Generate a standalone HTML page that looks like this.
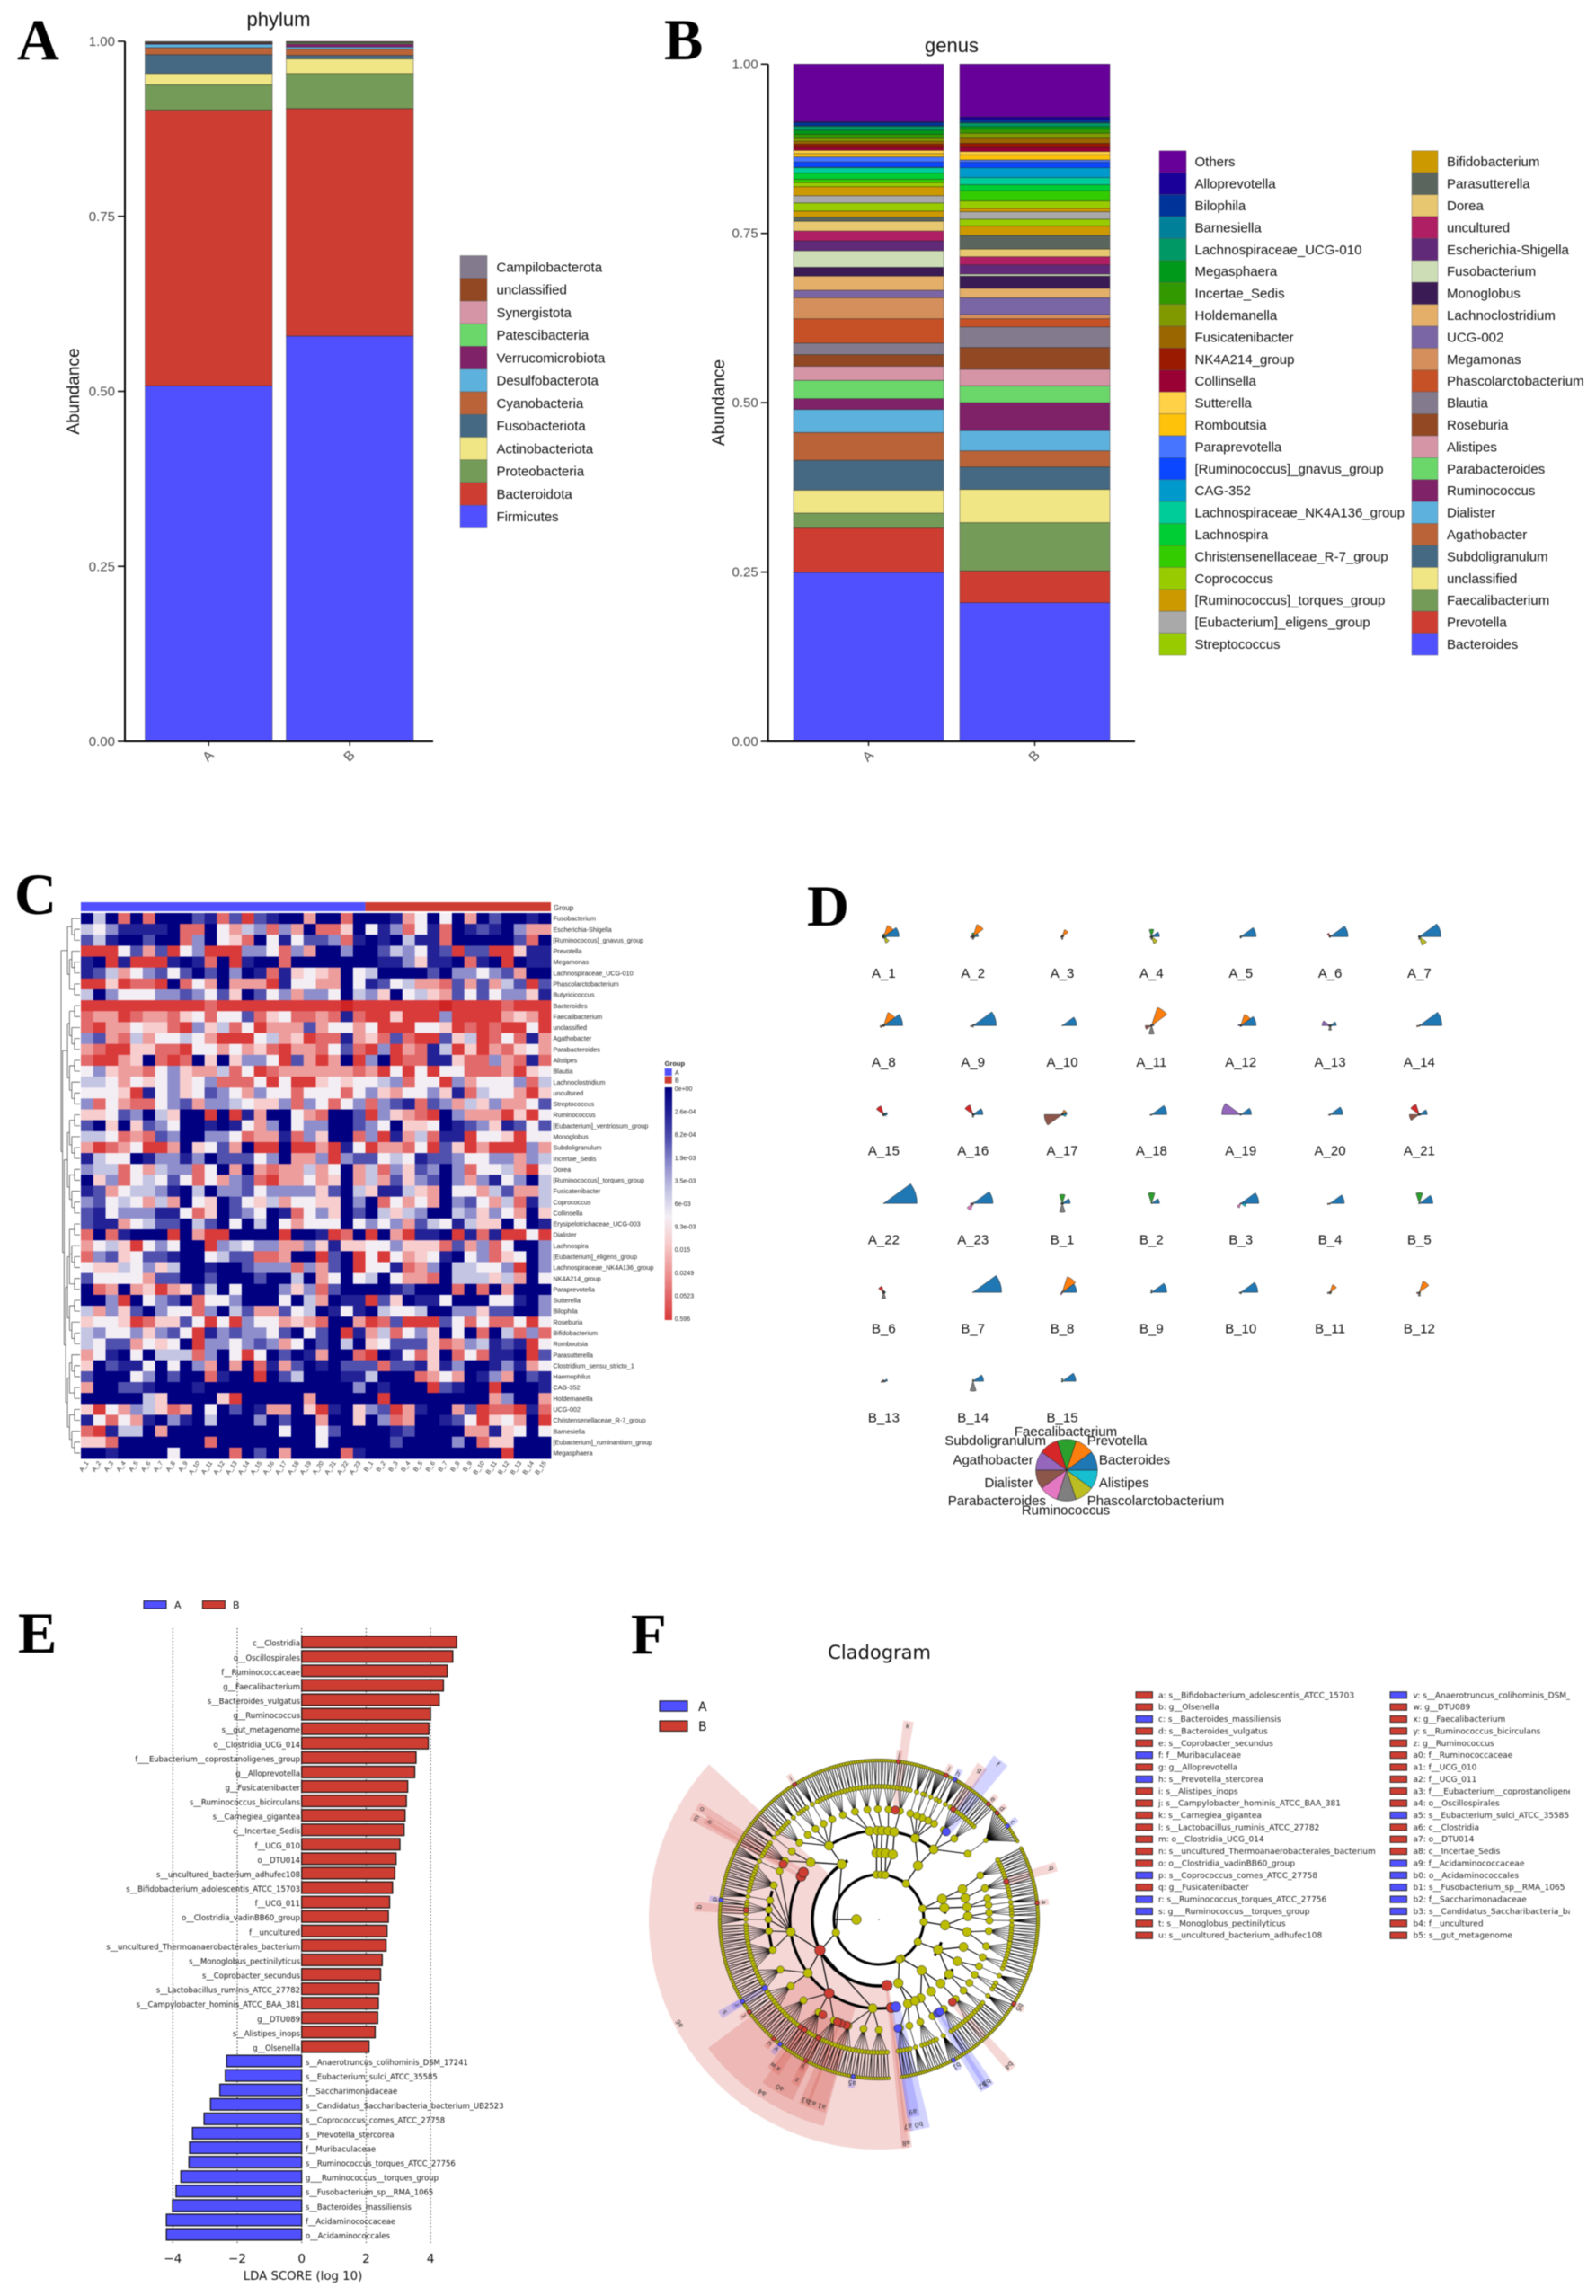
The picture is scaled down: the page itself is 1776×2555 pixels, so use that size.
<!DOCTYPE html>
<html lang="en">
<head>
<meta charset="utf-8">
<title>Microbiome composition figure, panels A to F</title>
<style>
html,body{margin:0;padding:0;background:#fff}
svg{display:block;font-family:"Liberation Sans",sans-serif;filter:blur(0.4px)}
.letter{font-family:"Liberation Serif",serif;font-weight:bold;font-size:65px;fill:#000}
.dv{font-family:"DejaVu Sans",sans-serif}
</style>
</head>
<body>
<svg id="fig" xmlns="http://www.w3.org/2000/svg" width="1776" height="2555" viewBox="0 0 1776 2555">
<defs>
<clipPath id="legendClip"><rect x="1240" y="1870" width="507" height="300"/></clipPath>
</defs>
<rect x="0" y="0" width="1776" height="2555" fill="#fff"/>
<text class="letter" x="19" y="66">A</text>
<text class="letter" x="739" y="66">B</text>
<text class="letter" x="16" y="1017">C</text>
<text class="letter" x="898" y="1030">D</text>
<text class="letter" x="20" y="1839">E</text>
<text class="letter" x="702" y="1840">F</text>

<text x="310" y="29" font-size="22" text-anchor="middle" fill="#111">phylum</text>
<text transform="translate(88,435.5) rotate(-90)" font-size="19" text-anchor="middle" fill="#111">Abundance</text>
<text x="1059" y="58" font-size="22" text-anchor="middle" fill="#111">genus</text>
<text transform="translate(806,448) rotate(-90)" font-size="19" text-anchor="middle" fill="#111">Abundance</text>

<text x="337" y="2537" class="dv" font-size="13.3" text-anchor="middle" fill="#111">LDA SCORE (log 10)</text>
<text x="978.6" y="1846" class="dv" font-size="21" text-anchor="middle" fill="#111">Cladogram</text>

<g id="panelA"></g>
<g id="panelB"></g>
<g id="panelC"></g>
<g id="panelD"></g>
<g id="panelE"></g>
<g id="panelF"></g>
</svg>

<script>
/* ---------- Shared palette ---------- */
const igvPalette = ['#5050FF','#CE3D32','#749B58','#F0E685','#466983','#BA6338','#5DB1DD','#802268','#6BD76B','#D595A7','#924822','#837B8D','#C75127','#D58F5C','#7A65A5','#E4AF69','#3B1B53','#CDDEB7','#612A79','#AE1F63','#E7C76F','#5A655E','#CC9900','#99CC00','#A9A9A9','#CC9900','#99CC00','#33CC00','#00CC33','#00CC99','#0099CC','#0A47FF','#4775FF','#FFC20A','#FFD147','#990033','#991A00','#996600','#809900','#339900','#00991A','#009966','#008099','#003399','#1A0099','#660099'];

/* ---------- Panel A data ---------- */
const stackTicks = [0, 0.25, 0.5, 0.75, 1];
const stackTickLabels = ['0.00', '0.25', '0.50', '0.75', '1.00'];
const stackGroups = ['A', 'B'];
const phylumNames = ['Firmicutes','Bacteroidota','Proteobacteria','Actinobacteriota','Fusobacteriota','Cyanobacteria','Desulfobacterota','Verrucomicrobiota','Patescibacteria','Synergistota','unclassified','Campilobacterota'];
const phylumA = [0.508,0.394,0.036,0.016,0.027,0.010,0.005,0.001,0.0005,0.0005,0.001,0.001];
const phylumB = [0.579,0.325,0.050,0.021,0.005,0.009,0.003,0.0045,0.0015,0.0005,0.001,0.0005];

/* ---------- Panel B data ---------- */
const genusNames = ['Bacteroides','Prevotella','Faecalibacterium','unclassified','Subdoligranulum','Agathobacter','Dialister','Ruminococcus','Parabacteroides','Alistipes','Roseburia','Blautia','Phascolarctobacterium','Megamonas','UCG-002','Lachnoclostridium','Monoglobus','Fusobacterium','Escherichia-Shigella','uncultured','Dorea','Parasutterella','Bifidobacterium','Streptococcus','[Eubacterium]_eligens_group','[Ruminococcus]_torques_group','Coprococcus','Christensenellaceae_R-7_group','Lachnospira','Lachnospiraceae_NK4A136_group','CAG-352','[Ruminococcus]_gnavus_group','Paraprevotella','Romboutsia','Sutterella','Collinsella','NK4A214_group','Fusicatenibacter','Holdemanella','Incertae_Sedis','Megasphaera','Lachnospiraceae_UCG-010','Barnesiella','Bilophila','Alloprevotella','Others'];
const genusA = [0.2494,0.0656,0.022,0.034,0.044,0.041,0.034,0.016,0.027,0.021,0.017,0.017,0.036,0.031,0.011,0.021,0.013,0.0245,0.0145,0.0145,0.0145,0.006,0.009,0.012,0.0107,0.0133,0.006,0.005,0.009,0.008,0.001,0.0075,0.0075,0.005,0.0047,0.0043,0.005,0.004,0.0045,0.006,0.006,0.0055,0.001,0.005,0.001,0.085];
const genusB = [0.2048,0.0469,0.0713,0.049,0.033,0.024,0.030,0.041,0.025,0.0245,0.032,0.0305,0.012,0.006,0.025,0.014,0.018,0.003,0.0136,0.012,0.0114,0.020,0.014,0.010,0.011,0.005,0.011,0.015,0.009,0.0105,0.0145,0.008,0.0035,0.0075,0.005,0.006,0.006,0.0075,0.0075,0.006,0.004,0.005,0.001,0.004,0.004,0.078];

/* ---------- Panel C data ---------- */
const heatColumns = ['A_1','A_2','A_3','A_4','A_5','A_6','A_7','A_8','A_9','A_10','A_11','A_12','A_13','A_14','A_15','A_16','A_17','A_18','A_19','A_20','A_21','A_22','A_23','B_1','B_2','B_3','B_4','B_5','B_6','B_7','B_8','B_9','B_10','B_11','B_12','B_13','B_14','B_15'];
const heatRowNames = ['Fusobacterium','Escherichia-Shigella','[Ruminococcus]_gnavus_group','Prevotella','Megamonas','Lachnospiraceae_UCG-010','Phascolarctobacterium','Butyricicoccus','Bacteroides','Faecalibacterium','unclassified','Agathobacter','Parabacteroides','Alistipes','Blautia','Lachnoclostridium','uncultured','Streptococcus','Ruminococcus','[Eubacterium]_ventriosum_group','Monoglobus','Subdoligranulum','Incertae_Sedis','Dorea','[Ruminococcus]_torques_group','Fusicatenibacter','Coprococcus','Collinsella','Erysipelotrichaceae_UCG-003','Dialister','Lachnospira','[Eubacterium]_eligens_group','Lachnospiraceae_NK4A136_group','NK4A214_group','Paraprevotella','Sutterella','Bilophila','Roseburia','Bifidobacterium','Romboutsia','Parasutterella','Clostridium_sensu_stricto_1','Haemophilus','CAG-352','Holdemanella','UCG-002','Christensenellaceae_R-7_group','Barnesiella','[Eubacterium]_ruminantium_group','Megasphaera'];
/* colour-rank of each cell, 0 = navy (lowest abundance), 9 = red (highest) */
const heatValues = [
[0,4,0,8,0,8,0,0,0,2,1,8,2,9,2,1,0,0,7,0,0,8,0,0,0,1,7,5,0,5,0,7,0,2,0,0,1,0],
[4,5,3,1,1,1,1,0,8,8,0,5,7,4,3,8,3,7,0,8,8,6,0,5,1,3,8,5,1,8,0,1,2,1,0,3,7,7],
[2,4,1,0,0,2,0,0,8,3,0,5,6,8,0,5,1,5,2,2,3,8,1,0,1,0,4,1,1,8,0,0,0,0,0,2,8,0],
[9,9,9,5,2,7,2,9,5,3,9,9,9,3,3,5,8,3,7,0,0,3,0,0,2,4,3,5,1,2,9,2,2,9,9,6,1,1],
[1,0,9,1,9,9,9,1,0,1,8,0,9,1,0,0,8,0,0,0,0,0,0,0,1,1,3,6,1,1,0,8,1,0,9,0,1,1],
[1,2,4,7,5,3,2,5,2,0,2,0,3,0,1,8,1,6,5,6,7,0,5,4,0,0,0,0,2,0,3,3,5,3,2,7,0,0],
[9,9,6,9,8,8,9,0,8,5,7,0,7,7,7,9,1,5,5,7,7,0,5,1,2,5,4,7,7,8,2,7,2,7,4,2,9,2],
[4,0,3,5,5,5,3,3,2,3,5,2,6,0,2,5,3,7,3,3,5,0,4,3,6,0,5,4,6,7,2,5,2,5,3,3,6,1],
[9,9,9,9,9,9,9,9,9,9,8,9,9,9,9,9,9,9,9,9,9,10,9,9,9,9,9,9,9,10,9,9,9,9,8,9,9,9],
[8,7,7,9,8,7,7,8,6,5,8,5,5,2,8,6,5,8,8,7,8,1,8,9,9,6,9,9,9,3,9,9,9,9,7,6,7,9],
[8,9,7,7,5,6,6,8,9,3,6,4,8,5,9,7,7,7,2,7,5,5,7,5,9,9,9,5,5,6,9,8,9,8,9,9,5,9],
[3,2,7,8,4,7,5,5,4,5,7,9,9,9,5,4,7,6,9,8,8,1,7,6,8,2,8,9,9,2,6,4,9,8,5,8,1,7],
[7,8,9,9,6,6,8,8,9,5,5,7,5,7,6,8,9,7,7,8,5,2,8,9,3,9,7,8,1,4,9,6,9,7,8,6,5,7],
[8,9,9,7,6,0,8,9,8,0,6,0,6,3,3,5,9,2,7,9,7,0,9,3,0,9,8,8,1,1,6,8,8,3,7,8,1,8],
[5,3,6,7,7,8,5,3,6,7,7,4,8,5,9,8,7,7,7,7,7,7,8,7,9,5,9,5,9,5,5,8,8,8,7,9,6,5],
[4,4,5,7,5,6,5,3,6,5,3,8,8,8,5,9,5,9,9,6,5,6,5,5,4,3,8,5,5,9,3,7,5,5,5,3,8,4],
[5,5,5,6,9,1,5,3,6,5,2,3,5,7,3,5,5,8,5,5,5,8,5,3,6,7,5,5,3,6,1,8,4,5,5,7,9,6],
[3,8,5,7,8,8,5,3,2,7,3,3,4,5,6,6,3,8,3,5,8,5,3,8,3,2,1,8,2,3,7,4,6,3,7,7,5,2],
[6,6,5,2,3,0,4,6,0,0,9,0,9,1,7,0,0,5,7,8,0,0,2,9,3,6,7,8,9,0,3,7,7,7,9,6,9,5],
[2,0,6,0,6,2,3,5,0,0,1,0,1,5,7,3,0,5,3,3,0,0,2,3,5,0,6,6,5,0,1,2,3,6,1,2,5,2],
[4,4,5,8,7,8,2,3,0,0,3,3,5,8,7,7,1,8,3,6,0,0,8,3,9,1,7,4,8,1,1,9,5,5,6,9,5,5],
[7,9,8,7,5,9,9,7,0,6,5,2,7,0,9,9,0,9,9,7,9,1,5,9,7,7,8,5,9,2,6,9,7,9,9,9,3,7],
[1,4,5,5,0,1,3,3,1,3,0,2,2,2,5,3,0,7,7,3,9,3,2,2,5,4,5,1,2,2,3,5,5,3,3,7,3,4],
[3,4,4,8,5,7,4,3,3,8,5,0,7,0,7,8,7,7,4,7,5,0,7,4,8,3,6,2,3,0,3,8,5,5,4,7,9,5],
[0,6,3,8,5,4,5,2,5,8,5,7,3,2,8,9,7,7,5,7,6,0,7,4,7,2,6,3,2,0,3,7,3,1,5,3,0,4],
[1,2,7,5,4,4,3,1,0,4,0,3,3,2,5,3,3,3,3,6,2,0,4,6,1,1,4,6,7,0,5,5,7,4,2,7,7,4],
[3,2,5,4,5,7,4,7,0,5,6,0,2,5,6,4,7,5,5,6,6,0,3,0,8,5,7,5,7,0,3,2,5,7,4,8,1,4],
[2,1,5,3,3,3,1,1,5,8,6,0,2,3,5,0,1,8,5,3,6,0,2,0,4,6,4,3,0,0,4,3,6,3,5,7,0,6],
[2,1,1,7,5,4,2,2,0,4,2,0,5,0,4,0,5,7,5,5,5,0,5,3,5,3,7,2,4,5,1,4,6,6,0,5,0,1],
[8,0,8,1,0,0,0,9,0,7,9,9,0,0,0,0,9,0,0,1,9,8,0,9,0,7,9,1,1,0,9,1,8,1,9,9,5,9],
[7,5,4,6,9,5,3,5,0,0,9,3,4,5,3,3,7,7,3,6,1,6,6,5,5,3,6,6,6,8,2,7,3,8,5,0,0,3],
[8,3,2,6,5,2,2,1,0,0,5,4,2,2,8,8,7,0,0,9,2,0,9,5,9,5,7,6,5,1,0,5,3,8,6,5,0,3],
[5,6,6,4,5,3,6,4,0,0,1,0,0,2,3,3,3,8,3,7,2,0,9,5,5,1,8,7,3,0,4,4,5,5,3,9,0,3],
[2,5,5,5,5,7,2,2,0,0,2,0,0,0,2,0,0,4,0,7,5,0,5,4,0,5,7,7,8,0,4,4,4,6,4,7,0,5],
[0,8,7,0,7,6,9,7,6,1,4,0,5,0,0,0,3,6,3,8,2,0,0,0,0,1,2,0,0,0,8,0,8,0,7,0,0,0],
[0,0,3,9,0,5,3,2,0,8,5,5,3,0,0,0,5,0,4,7,0,1,1,9,2,6,0,1,1,5,0,0,0,5,5,1,0,3],
[4,7,3,6,2,0,3,5,5,8,3,0,4,2,7,7,2,5,4,0,1,5,1,0,4,5,5,4,0,0,3,3,6,2,2,0,0,3],
[6,5,5,6,9,8,6,6,2,5,9,5,9,3,5,5,7,6,7,8,0,0,7,9,8,2,9,9,9,2,5,8,5,8,8,5,9,5],
[4,3,5,5,3,6,3,2,5,9,1,3,2,3,3,5,2,0,5,2,0,9,1,7,4,8,5,3,6,0,5,0,8,0,4,8,3,8],
[4,5,2,2,7,5,6,5,0,9,3,3,5,3,2,3,7,5,0,2,0,4,0,6,5,2,2,2,6,8,7,3,4,1,2,1,9,5],
[7,5,1,0,5,0,4,4,4,8,3,0,5,9,5,0,2,0,1,7,0,0,8,9,0,1,5,8,6,0,8,5,8,1,1,0,9,2],
[6,0,2,1,1,5,0,5,0,3,7,0,7,0,8,1,7,2,0,1,0,2,2,2,8,2,2,1,6,1,3,0,0,1,3,1,7,5],
[2,0,0,0,5,3,0,2,0,0,8,1,0,0,9,0,2,4,0,0,0,1,1,4,0,0,0,8,7,5,7,0,1,3,7,0,2,1],
[7,0,0,2,2,1,0,0,0,1,0,0,0,0,0,0,0,0,0,0,0,0,3,0,1,0,0,0,9,2,1,0,0,9,0,0,0,1],
[0,0,0,0,0,4,6,0,0,0,0,6,9,0,0,0,0,0,7,0,0,0,0,0,9,0,0,0,0,0,0,0,0,7,3,0,0,7],
[6,9,5,7,3,4,6,8,7,0,5,0,2,0,1,7,7,0,6,9,1,0,6,3,2,9,7,1,0,0,7,2,9,8,8,9,1,8],
[1,5,8,5,7,1,0,3,1,0,4,0,0,0,3,0,2,0,0,7,0,0,6,0,3,8,7,0,0,1,2,5,9,6,5,7,0,9],
[8,9,1,4,4,0,7,0,0,0,0,0,0,0,0,0,5,0,0,5,2,0,0,0,0,1,2,0,0,0,0,7,7,1,6,5,0,5],
[6,6,8,0,0,0,0,0,0,0,8,0,0,0,0,0,0,0,0,5,0,0,0,0,0,2,0,0,0,0,3,0,8,6,6,0,0,0],
[0,0,1,0,0,0,0,5,0,0,0,0,8,0,2,0,7,0,0,0,0,8,1,0,0,0,0,0,0,0,0,0,0,0,9,0,0,0]
];
const heatScaleLabels = ['0e+00','2.6e-04','8.2e-04','1.9e-03','3.5e-03','6e-03','9.3e-03','0.015','0.0249','0.0523','0.596'];
const dendroTree = [[[0,[1,2]],[[3,[4,5]],[6,7]]],[[[[8,9],[10,[11,12]]],[[13,14],[15,[16,17]]]],[[[[18,19],[20,[21,22]]],[[23,24],[25,[26,27]]]],[[[[28,29],[30,[31,32]],[33,34]],[[35,36],[37,[38,39]]]],[[[40,[41,42]],[43,44]],[[45,46],[47,[48,49]]]]]]]];

/* ---------- Panel D data ---------- */
const starSectors = ['Bacteroides','Prevotella','Faecalibacterium','Subdoligranulum','Agathobacter','Dialister','Parabacteroides','Ruminococcus','Phascolarctobacterium','Alistipes'];
const starColors = ['#1f77b4','#ff7f0e','#2ca02c','#d62728','#9467bd','#8c564b','#e377c2','#7f7f7f','#bcbd22','#17becf'];
/* one row per sample (same order as heatColumns), scaled so the largest is 100 */
const starValues = [
[46,35,8,5,5,5,5,5,20,8],[16,38,11,5,5,8,3,8,5,5],[5,22,5,3,3,5,3,8,3,3],[24,3,22,3,3,5,3,8,22,5],[46,3,3,1,1,3,3,5,1,3],[54,5,3,11,3,3,1,3,1,1],[65,3,3,3,3,3,3,8,27,5],
[57,41,3,3,5,11,3,3,3,3],[70,5,3,1,1,8,1,5,1,1],[43,1,1,1,1,1,1,1,1,1],[8,57,3,3,3,19,3,26,3,3],[46,35,3,3,8,3,3,3,3,3],[19,3,3,3,24,5,3,14,5,5],[68,3,1,1,1,8,1,3,1,1],
[11,5,3,27,3,5,3,5,3,8],[30,3,3,30,3,3,3,8,3,5],[14,14,5,3,3,54,3,3,3,11],[46,1,1,1,1,5,1,3,1,1],[32,1,3,1,57,3,1,3,1,1],[38,1,1,1,1,5,1,3,1,1],[24,3,3,32,5,30,3,3,3,5],
[100,1,1,1,1,1,1,1,1,1],[60,3,1,1,3,8,22,5,1,1],[24,3,27,3,3,5,3,27,3,5],[24,1,32,3,1,1,1,1,1,1],[54,1,1,1,1,3,14,1,1,16],[43,1,1,1,1,8,1,3,1,1],[41,1,32,1,1,3,1,1,1,1],
[5,3,5,19,3,5,5,19,5,5],[86,1,1,1,1,1,1,1,1,1],[43,49,3,1,1,3,8,3,1,1],[46,1,8,1,1,3,1,3,1,1],[51,1,1,1,1,5,1,5,3,1],[5,24,1,1,3,8,1,5,5,1],[3,35,1,1,1,8,5,11,5,3],
[11,3,1,5,1,8,1,3,1,5],[32,5,5,1,1,1,1,30,1,1],[41,1,8,1,1,3,1,3,1,1]
];

/* ---------- Panel E data ---------- */
const ldaTicks = [-4,-2,0,2,4];
const ldaTickLabels = ['\u22124','\u22122','0','2','4'];
const ldaLabels = ['c__Clostridia','o__Oscillospirales','f__Ruminococcaceae','g__Faecalibacterium','s__Bacteroides_vulgatus','g__Ruminococcus','s__gut_metagenome','o__Clostridia_UCG_014','f___Eubacterium__coprostanoligenes_group','g__Alloprevotella','g__Fusicatenibacter','s__Ruminococcus_bicirculans','s__Carnegiea_gigantea','c__Incertae_Sedis','f__UCG_010','o__DTU014','s__uncultured_bacterium_adhufec108','s__Bifidobacterium_adolescentis_ATCC_15703','f__UCG_011','o__Clostridia_vadinBB60_group','f__uncultured','s__uncultured_Thermoanaerobacterales_bacterium','s__Monoglobus_pectinilyticus','s__Coprobacter_secundus','s__Lactobacillus_ruminis_ATCC_27782','s__Campylobacter_hominis_ATCC_BAA_381','g__DTU089','s__Alistipes_inops','g__Olsenella','s__Anaerotruncus_colihominis_DSM_17241','s__Eubacterium_sulci_ATCC_35585','f__Saccharimonadaceae','s__Candidatus_Saccharibacteria_bacterium_UB2523','s__Coprococcus_comes_ATCC_27758','s__Prevotella_stercorea','f__Muribaculaceae','s__Ruminococcus_torques_ATCC_27756','g___Ruminococcus__torques_group','s__Fusobacterium_sp__RMA_1065','s__Bacteroides_massiliensis','f__Acidaminococcaceae','o__Acidaminococcales'];
const ldaValues = [4.81,4.69,4.52,4.40,4.27,4.00,3.95,3.93,3.55,3.51,3.29,3.25,3.21,3.18,3.05,2.93,2.89,2.82,2.73,2.69,2.65,2.62,2.50,2.45,2.40,2.38,2.36,2.28,2.09,-2.33,-2.37,-2.54,-2.83,-3.03,-3.39,-3.48,-3.50,-3.75,-3.90,-4.01,-4.20,-4.20];

/* ---------- Panel F data ---------- */
const cladeNames = ['a: s__Bifidobacterium_adolescentis_ATCC_15703','b: g__Olsenella','c: s__Bacteroides_massiliensis','d: s__Bacteroides_vulgatus','e: s__Coprobacter_secundus','f: f__Muribaculaceae','g: g__Alloprevotella','h: s__Prevotella_stercorea','i: s__Alistipes_inops','j: s__Campylobacter_hominis_ATCC_BAA_381','k: s__Carnegiea_gigantea','l: s__Lactobacillus_ruminis_ATCC_27782','m: o__Clostridia_UCG_014','n: s__uncultured_Thermoanaerobacterales_bacterium','o: o__Clostridia_vadinBB60_group','p: s__Coprococcus_comes_ATCC_27758','q: g__Fusicatenibacter','r: s__Ruminococcus_torques_ATCC_27756','s: g___Ruminococcus__torques_group','t: s__Monoglobus_pectinilyticus','u: s__uncultured_bacterium_adhufec108','v: s__Anaerotruncus_colihominis_DSM_17241','w: g__DTU089','x: g__Faecalibacterium','y: s__Ruminococcus_bicirculans','z: g__Ruminococcus','a0: f__Ruminococcaceae','a1: f__UCG_010','a2: f__UCG_011','a3: f___Eubacterium__coprostanoligenes_group','a4: o__Oscillospirales','a5: s__Eubacterium_sulci_ATCC_35585','a6: c__Clostridia','a7: o__DTU014','a8: c__Incertae_Sedis','a9: f__Acidaminococcaceae','b0: o__Acidaminococcales','b1: s__Fusobacterium_sp__RMA_1065','b2: f__Saccharimonadaceae','b3: s__Candidatus_Saccharibacteria_bacterium_UB2523','b4: f__uncultured','b5: s__gut_metagenome'];
const cladeGroups = ['B','B','A','B','B','A','B','A','B','B','B','B','B','B','B','A','B','A','A','B','B','A','B','B','B','B','B','B','B','B','B','A','B','B','B','A','A','A','A','A','B','B'];
/* clade marks: [letter, taxonomic level (1 class .. 5 species), angle in degrees, half-width in degrees, group] */
const cladeMarks = [
['a0',3,239.5,5,'B'],['a6',1,207.6,70,'B'],['a4',2,236,19,'B'],['a1',3,253,1.5,'B'],['a2',3,250,1.5,'B'],['a3',3,248,1.5,'B'],
['a',5,6,1,'B'],['b',4,176,1.5,'B'],['c',5,36,1,'A'],['d',5,42,1,'B'],['e',5,46.5,1,'B'],['f',3,52.5,2.5,'A'],['g',4,56,1.8,'B'],['h',5,61.5,1,'A'],['i',5,122,1,'B'],['j',5,83,1,'B'],['k',3,81.5,1.5,'B'],['l',5,65,1,'B'],['m',2,151,1.2,'B'],['n',3,150,1.2,'B'],['o',2,148,1.2,'B'],['p',5,173,1,'A'],['q',4,16.6,1.5,'B'],['r',5,211,1,'A'],['s',4,211,1.3,'A'],['t',5,215.5,1,'B'],['u',5,228.6,1,'B'],['v',5,231.6,1,'A'],['w',4,234,1,'B'],['x',4,236,1.3,'B'],['y',5,242.6,1,'B'],['z',4,243,1.3,'B'],['a5',5,260.7,1,'A'],['a7',2,278,1.2,'B'],['a8',1,277,1.3,'B'],['a9',3,280,1.8,'A'],['b0',2,281,2.8,'A'],['b1',5,298,1,'A'],['b2',3,302,1.5,'A'],['b3',3,303.5,1.5,'A'],['b4',3,311.7,1.5,'B'],['b5',5,328,1,'B']
];
const cladeLevel0 = [93,87,82,53,14,-3,-30,-60,-63,197];
/* [level, child angle, parent angle] */
const cladeBranches = [
[1,92,93],[1,88,87],[1,84,82],[1,78,82],[1,54,53],[1,208,197],[1,124,197],[1,10,14],[1,18,14],[1,-5,-3],[1,-27,-30],[1,-50,-60],[1,-73,-63],
[2,96,92],[2,91,92],[2,88,88],[2,84,84],[2,80,78],[2,66,54],[2,52,54],[2,124,124],[2,140,124],[2,188,208],[2,217,208],[2,236,208],[2,266,208],[2,20,18],[2,14,18],[2,8,10],[2,2,-5],[2,-8,-5],[2,-18,-27],[2,-28,-27],[2,-38,-27],[2,-46,-50],[2,-54,-50],[2,-62,-50],[2,-71,-73],[2,-66,-73]
];
/* families: [parent angle, first leaf angle, last leaf angle, leaf count, genus count] */
const cladeFamilies = [
[-8,-10,-2,10,7],[2,-2,1,4,1],[2,1,6,6,4],[8,6,9,4,1],[8,9,13,5,3],[14,13,20,8,6],[20,20,27,9,6],
[52,29,44,16,1],[52,44,50,7,5],[52,50,58,9,6],[66,58,62,6,1],[66,62,65,3,2],[66,65,69,6,1],[66,69,71,3,2],[66,71,76,6,1],
[80,76,82,7,5],[84,82,88,7,5],[88,88,93,6,4],[91,93,99,7,5],[96,99,106,8,5],[96,106,112,7,5],
[124,112,118,7,5],[124,118,122,5,1],[124,122,128,7,4],[124,128,132,5,1],[124,132,140,9,6],[140,140,144,5,1],[140,144,152,9,6],
[188,152,156,5,1],[188,156,168,14,10],[188,168,172,5,1],[188,172,178,7,5],[188,178,182,5,1],[188,182,190,10,7],[188,190,202,14,10],
[217,202,212,11,8],[217,212,222,11,7],[236,222,232,11,8],[236,232,242,11,8],[236,242,250,9,7],[266,250,258,9,6],[266,258,266,9,6],[266,266,274,9,6],
[-71,278,284,7,5],[-71,284,288,5,1],[-66,288,296,9,6],[-62,296,302,7,1],[-54,302,310,9,6],[-46,310,318,9,6],[-38,318,322,5,3],[-38,322,328,6,1],[-28,328,332,4,3],[-28,332,338,6,1],[-18,338,342,4,3],[-8,342,350,9,6]
];

/* ---------- Helpers ---------- */
const NS = 'http://www.w3.org/2000/svg';
function mk(tag, attrs, parent, content) {
  const el = document.createElementNS(NS, tag);
  for (const k in attrs) el.setAttribute(k, attrs[k]);
  if (content !== undefined) el.textContent = content;
  parent.appendChild(el);
  return el;
}
function slug(s) {
  return String(s).toLowerCase().replace(/[^a-z0-9]+/g, '-').replace(/^-|-$/g, '');
}

/* ---------- Panels A and B ---------- */
function drawStack(cfg) {
  const root = document.getElementById(cfg.id);
  const y = v => cfg.yBase - v * (cfg.yBase - cfg.yTop);
  stackTicks.forEach((t, i) => {
    const tick = mk('line', {x1: cfg.axisX - 8, x2: cfg.axisX, y1: y(t), y2: y(t), stroke: '#111', 'stroke-width': 1.6}, root);
    
    
    const lab = mk('text', {x: cfg.axisX - 11, y: y(t) + 5, 'font-size': 15, 'text-anchor': 'end', fill: '#4d4d4d'}, root, stackTickLabels[i]);
    
    
  });
  stackGroups.forEach((group, g) => {
    let acc = 0;
    const vals = cfg.values[g];
    vals.forEach((v, s) => {
      const rect = mk('rect', {x: cfg.barX[g], width: cfg.barW, y: y(acc + v), height: Math.max(0.3, y(acc) - y(acc + v)), fill: igvPalette[s], stroke: '#222', 'stroke-opacity': 0.65, 'stroke-width': 0.6}, root);
      
      
      acc += v;
    });
    const cx = cfg.barX[g] + cfg.barW / 2;
    const tick = mk('line', {x1: cx, x2: cx, y1: cfg.yBase, y2: cfg.yBase + 5, stroke: '#111', 'stroke-width': 1.4}, root);
    
    
    const lab = mk('text', {transform: 'translate(' + cx + ',' + (cfg.yBase + 17) + ') rotate(-45)', 'font-size': 15, 'text-anchor': 'middle', 'dominant-baseline': 'middle', fill: '#4d4d4d'}, root, group);
    
    
  });
  const yLine = mk('line', {x1: cfg.axisX, x2: cfg.axisX, y1: cfg.yTop, y2: cfg.yBase + 1, stroke: '#000', 'stroke-width': 2}, root);
  
  
  const xLine = mk('line', {x1: cfg.axisX - 1, x2: cfg.axisEnd, y1: cfg.yBase, y2: cfg.yBase, stroke: '#000', 'stroke-width': 2}, root);
  
  

  cfg.legend.forEach(col => {
    col.items.forEach((idx, i) => {
      const yy = col.y + i * col.step;
      const sw = mk('rect', {x: col.x, y: yy, width: col.w, height: col.step, fill: igvPalette[idx], stroke: '#555', 'stroke-opacity': 0.6, 'stroke-width': 0.6}, root);
      
      
      const t = mk('text', {x: col.tx, y: yy + col.step / 2 + 5.2, 'font-size': 15, fill: '#111'}, root, cfg.names[idx]);
      
      
    });
  });
}
drawStack({
  id: 'panelA', key: 'phylum', yTop: 46, yBase: 825, axisX: 139, axisEnd: 482,
  barX: [161.5, 318.5], barW: 141.5, names: phylumNames, values: [phylumA, phylumB],
  legend: [{x: 512, w: 30, tx: 552.5, y: 284.5, step: 25.25, items: phylumNames.map((_, i) => phylumNames.length - 1 - i)}]
});
drawStack({
  id: 'panelB', key: 'genus', yTop: 71.3, yBase: 825, axisX: 854.7, axisEnd: 1263,
  barX: [883, 1068], barW: 167, names: genusNames, values: [genusA, genusB],
  legend: [
    {x: 1290, w: 30, tx: 1329.5, y: 167.8, step: 24.4, items: genusNames.map((_, i) => 45 - i).slice(0, 23)},
    {x: 1571, w: 29, tx: 1610, y: 167.8, step: 24.4, items: genusNames.map((_, i) => 22 - i).slice(0, 23)}
  ]
});

/* ---------- Panel C ---------- */
(function drawHeatmap() {
  const root = document.getElementById('panelC');
  const x0 = 90, x1 = 613, y0 = 1016, y1 = 1623;
  const cw = (x1 - x0) / heatColumns.length, ch = (y1 - y0) / heatRowNames.length;
  const stops = [[0,0,128],[34,34,150],[80,80,174],[142,142,205],[196,196,227],[243,238,244],[247,205,205],[238,157,157],[227,106,106],[217,58,58],[208,36,36]];
  const colorFor = v => {
    const c = Math.max(0, Math.min(10, v)), lo = Math.floor(c), hi = Math.min(10, lo + 1), f = c - lo;
    const m = stops[lo].map((s, k) => Math.round(s + (stops[hi][k] - s) * f));
    return 'rgb(' + m.join(',') + ')';
  };
  const gA = mk('rect', {x: x0, y: 1004, width: cw * 23, height: 10, fill: '#5050FF'}, root);
  
  
  const gB = mk('rect', {x: x0 + cw * 23, y: 1004, width: cw * 15, height: 10, fill: '#CE3D32'}, root);
  
  
  const gl = mk('text', {x: 616, y: 1013, 'font-size': 8, fill: '#222'}, root, 'Group');
  
  

  heatValues.forEach((row, r) => {
    row.forEach((v, c) => {
      const cell = mk('rect', {x: x0 + c * cw, y: y0 + r * ch, width: cw + 0.4, height: ch + 0.4, fill: colorFor(v)}, root);
      
      
    });
    const lab = mk('text', {x: x1 + 2.5, y: y0 + (r + 0.5) * ch + 2.6, 'font-size': 7.2, fill: '#222'}, root, heatRowNames[r]);
    
    
  });
  heatColumns.forEach((name, c) => {
    const cx = x0 + (c + 0.5) * cw;
    const t = mk('text', {transform: 'translate(' + (cx + 2) + ',' + (y1 + 5) + ') rotate(-55)', 'font-size': 7, 'text-anchor': 'end', fill: '#222'}, root, name);
    
    
  });

  /* dendrogram, drawn from the nested row tree */
  const depth = n => Array.isArray(n) ? 1 + Math.max(...n.map(depth)) : 0;
  const maxD = depth(dendroTree);
  const xOf = d => x0 - 1 - 21 * Math.pow(d / maxD, 0.6);
  const walk = n => {
    if (!Array.isArray(n)) return {x: x0 - 1, y: y0 + (n + 0.5) * ch};
    const kids = n.map(walk);
    const nx = xOf(depth(n));
    const ys = kids.map(k => k.y);
    const ymin = Math.min(...ys), ymax = Math.max(...ys);
    let d = 'M' + nx + ' ' + ymin + 'V' + ymax;
    kids.forEach(k => { d += 'M' + nx + ' ' + k.y + 'H' + k.x; });
    const p = mk('path', {d: d, fill: 'none', stroke: '#555', 'stroke-width': 0.8}, root);
    
    
    return {x: nx, y: (ymin + ymax) / 2};
  };
  walk(dendroTree);

  /* legends */
  const lgT = mk('text', {x: 739.6, y: 1186, 'font-size': 7.5, 'font-weight': 'bold', fill: '#222'}, root, 'Group');
  
  
  ['A', 'B'].forEach((g, i) => {
    const s = mk('rect', {x: 739.7, y: 1189 + i * 8.7, width: 8, height: 8, fill: g === 'A' ? '#5050FF' : '#CE3D32'}, root);
    
    
    const t = mk('text', {x: 751, y: 1196 + i * 8.7, 'font-size': 7, fill: '#222'}, root, g);
    
    
  });
  const defs = document.querySelector('#fig defs');
  const grad = mk('linearGradient', {id: 'heatGrad', x1: 0, x2: 0, y1: 0, y2: 1}, defs);
  stops.slice(0, 10).forEach((s, i) => {
    mk('stop', {offset: (i / 9 * 100) + '%', 'stop-color': 'rgb(' + s.join(',') + ')'}, grad);
  });
  const bar = mk('rect', {x: 739.7, y: 1210, width: 8.3, height: 259, fill: 'url(#heatGrad)'}, root);
  
  
  heatScaleLabels.forEach((lab, i) => {
    const t = mk('text', {x: 750.7, y: 1214 + i * 25.6, 'font-size': 7, fill: '#222'}, root, lab);
    
    
  });
})();

/* ---------- Panel D ---------- */
(function drawStars() {
  const root = document.getElementById('panelD');
  const colX = i => 983.4 + i * 99.33;
  const labelY = i => 1082.3 + i * 98.95;
  const rOf = v => v * 0.37;
  const wedge = (cx, cy, r, k) => {
    const a1 = k * 36 * Math.PI / 180, a2 = (k + 1) * 36 * Math.PI / 180;
    return 'M' + cx + ' ' + cy + 'L' + (cx + r * Math.cos(a1)) + ' ' + (cy - r * Math.sin(a1)) + 'A' + r + ' ' + r + ' 0 0 0 ' + (cx + r * Math.cos(a2)) + ' ' + (cy - r * Math.sin(a2)) + 'Z';
  };
  starValues.forEach((vals, i) => {
    const c = i % 7, r = Math.floor(i / 7);
    const cx = colX(c), cy = labelY(r) - 40;
    vals.forEach((v, k) => {
      const p = mk('path', {d: wedge(cx, cy, rOf(v), k), fill: starColors[k], stroke: '#222', 'stroke-width': 0.5}, root);
      
      
    });
    const t = mk('text', {x: cx, y: labelY(r) + 5.5, 'font-size': 15, 'text-anchor': 'middle', fill: '#111'}, root, heatColumns[i]);
    
    
  });
  /* key pie */
  const kx = 1186.9, ky = 1636, kr = 34.3;
  starSectors.forEach((name, k) => {
    const p = mk('path', {d: wedge(kx, ky, kr, k), fill: starColors[k], stroke: '#222', 'stroke-width': 0.5}, root);
    
    
  });
  const anchors = ['start','start','middle','end','end','end','end','middle','start','start'];
  const keyLabelOffsetX = [36,22.8,-0.9,-22.9,-37.2,-37.2,-22.9,-0.9,22.8,36];
  const keyLabelOffsetY = [-6.5,-28,-38,-28,-6.5,19,39,49.5,39,19];
  starSectors.forEach((name, k) => {
    const t = mk('text', {x: kx + keyLabelOffsetX[k], y: ky + keyLabelOffsetY[k], 'font-size': 15, 'text-anchor': anchors[k], fill: '#111'}, root, name);
    
    
  });
})();

/* ---------- Panel E ---------- */
(function drawLda() {
  const root = document.getElementById('panelE');
  const x = v => 335.7 + 35.85 * v;
  const rowY = i => 1827.2 + 16.08 * i;
  ldaTicks.forEach((t, i) => {
    const g = mk('line', {x1: x(t), x2: x(t), y1: 1812, y2: 2497, stroke: '#444', 'stroke-width': 1, 'stroke-dasharray': '1.5 2'}, root);
    
    
    const l = mk('text', {x: x(t), y: 2518, 'font-size': 13.6, 'text-anchor': 'middle', fill: '#111'}, root, ldaTickLabels[i]);
    l.setAttribute('class', 'dv');
    
    
  });
  ldaValues.forEach((v, i) => {
    const a = v < 0;
    const b = mk('rect', {x: a ? x(v) : x(0), y: rowY(i) - 6.4, width: Math.abs(x(v) - x(0)), height: 12.8, fill: a ? '#5050FF' : '#CE3D32', stroke: '#111', 'stroke-width': 1.2}, root);
    
    
    const t = mk('text', {x: a ? 340 : 334, y: rowY(i) + 4.5, 'font-size': 8.45, 'text-anchor': a ? 'start' : 'end', fill: '#111'}, root, ldaLabels[i]);
    t.setAttribute('class', 'dv');
    
    
  });
  [['A', 160, '#5050FF', 194], ['B', 225.4, '#CE3D32', 259]].forEach(e => {
    const s = mk('rect', {x: e[1], y: 1781.5, width: 25, height: 8.5, fill: e[2], stroke: '#111', 'stroke-width': 0.9}, root);
    
    
    const t = mk('text', {x: e[3], y: 1790, 'font-size': 11, fill: '#111'}, root, e[0]);
    t.setAttribute('class', 'dv');
    
    
  });
})();

/* ---------- Panel F ---------- */
(function drawCladogram() {
  const root = document.getElementById('panelF');
  const cx = 978, cy = 2136;
  const ringR = [50, 74, 99, 123, 148, 177];
  const reach = [0, 250, 232, 217, 200, 184];
  const nodeR = [4, 5.3, 5, 4, 2.6, 1.9];
  const YEL = '#bcbc00';
  const pt = (r, a) => [cx + r * Math.cos(a * Math.PI / 180), cy - r * Math.sin(a * Math.PI / 180)];
  const band = (r0, r1, a1, a2) => {
    const p1 = pt(r1, a1), p2 = pt(r1, a2), p3 = pt(r0, a2), p4 = pt(r0, a1);
    const large = (a2 - a1) > 180 ? 1 : 0;
    return 'M' + p1 + 'A' + r1 + ' ' + r1 + ' 0 ' + large + ' 0 ' + p2 + 'L' + p3 + 'A' + r0 + ' ' + r0 + ' 0 ' + large + ' 1 ' + p4 + 'Z';
  };

  /* shaded sectors and strips */
  cladeMarks.forEach(m => {
    const col = m[4] === 'A' ? 'rgba(80,80,255,0.25)' : 'rgba(206,61,50,0.2)';
    const p = mk('path', {d: band(ringR[m[1]], reach[m[1]] + 6, m[2] - m[3], m[2] + m[3]), fill: col}, root);
    
    
  });

  /* thick ring arcs */
  const arcs = [[50,0,359.9,3],[74,118,278,3.4],[99,50,125,3],[99,148,278,3],[74,5,18,3],[74,-33,-20,3],[99,-72,-60,3],[99,-42,-34,3],[123,165,195,3]];
  arcs.forEach((a, i) => {
    const s = pt(a[0], a[1]), e = pt(a[0], a[2]);
    const p = mk('path', {d: 'M' + s + 'A' + a[0] + ' ' + a[0] + ' 0 ' + (a[2] - a[1] > 180 ? 1 : 0) + ' 0 ' + e, fill: 'none', stroke: '#000', 'stroke-width': a[3]}, root);
    
    
  });

  const nodes = [];
  const link = (r1, a1, r2, a2, w) => {
    const s = pt(r1, a1), e = pt(r2, a2);
    const l = mk('line', {x1: s[0], y1: s[1], x2: e[0], y2: e[1], stroke: '#000', 'stroke-width': w}, root);
    
    
  };

  /* stem from the ring to the first internal node */
  link(50, 180, 25, 180, 1.2);
  nodes.push([25, 180, 5.4]);
  cladeLevel0.forEach(a => nodes.push([50, a, 4.2]));
  cladeBranches.forEach(b => {
    link(ringR[b[0]], b[1], ringR[b[0] - 1], b[2], 1.2);
    nodes.push([ringR[b[0]], b[1], nodeR[b[0]]]);
  });
  cladeFamilies.forEach(f => {
    const famA = (f[1] + f[2]) / 2;
    link(ringR[3], famA, ringR[2], f[0], 1);
    nodes.push([ringR[3], famA, nodeR[3]]);
    const leafStep = (f[2] - f[1]) / f[3];
    const perGenus = f[3] / f[4];
    for (let g = 0; g < f[4]; g++) {
      const from = Math.round(g * perGenus), to = Math.round((g + 1) * perGenus);
      const genA = f[1] + leafStep * (from + to) / 2;
      link(ringR[4], genA, ringR[3], famA, 0.6);
      nodes.push([ringR[4], genA, nodeR[4]]);
      for (let s = from; s < to; s++) {
        const leafA = f[1] + leafStep * (s + 0.5);
        link(ringR[5], leafA, ringR[4], genA, 0.8);
        nodes.push([ringR[5], leafA, nodeR[5]]);
      }
    }
  });
  nodes.forEach(n => {
    const p = pt(n[0], n[1]);
    const c = mk('circle', {cx: p[0], cy: p[1], r: n[2], fill: YEL, stroke: '#222', 'stroke-width': 0.5}, root);
    
    
  });

  /* marked nodes and their letters */
  cladeMarks.forEach(m => {
    const p = pt(ringR[m[1]], m[2]);
    const c = mk('circle', {cx: p[0], cy: p[1], r: nodeR[m[1]] + 0.5, fill: m[4] === 'A' ? '#5050FF' : '#CE3D32', stroke: '#222', 'stroke-width': 0.6}, root);
    
    
    const lp = pt(reach[m[1]], m[2]);
    const t = mk('text', {transform: 'translate(' + lp[0] + ',' + lp[1] + ') rotate(' + (90 - m[2]) + ')', 'font-size': 7.5, 'text-anchor': 'middle', 'dominant-baseline': 'middle', fill: '#333'}, root, m[0]);
    t.setAttribute('class', 'dv');
    
    
  });
  const dot = mk('circle', {cx: cx, cy: cy, r: 1, fill: '#999'}, root);
  
  

  /* group legend */
  [['A', 1892.8, '#5050FF'], ['B', 1915, '#CE3D32']].forEach(e => {
    const s = mk('rect', {x: 734, y: e[1], width: 31, height: 11.5, fill: e[2], stroke: '#111', 'stroke-width': 1}, root);
    
    
    const t = mk('text', {x: 777, y: e[1] + 11, 'font-size': 14, fill: '#111'}, root, e[0]);
    t.setAttribute('class', 'dv');
    
    
  });

  /* taxa key in two columns */
  const keyGroup = mk('g', {'clip-path': 'url(#legendClip)'}, root);
  
  
  cladeNames.forEach((name, i) => {
    const col = i < 21 ? 0 : 1, row = col ? i - 21 : i;
    const yy = 1886.3 + row * 13.37;
    const s = mk('rect', {x: col ? 1547 : 1264, y: yy - 3.6, width: 18.5, height: 7.2, fill: cladeGroups[i] === 'A' ? '#5050FF' : '#CE3D32', stroke: '#222', 'stroke-width': 0.9}, keyGroup);
    
    
    const t = mk('text', {x: col ? 1572.5 : 1289, y: yy + 3, 'font-size': 9, fill: '#222'}, keyGroup, name);
    t.setAttribute('class', 'dv');
    
    
  });
})();
</script>
</body>
</html>
